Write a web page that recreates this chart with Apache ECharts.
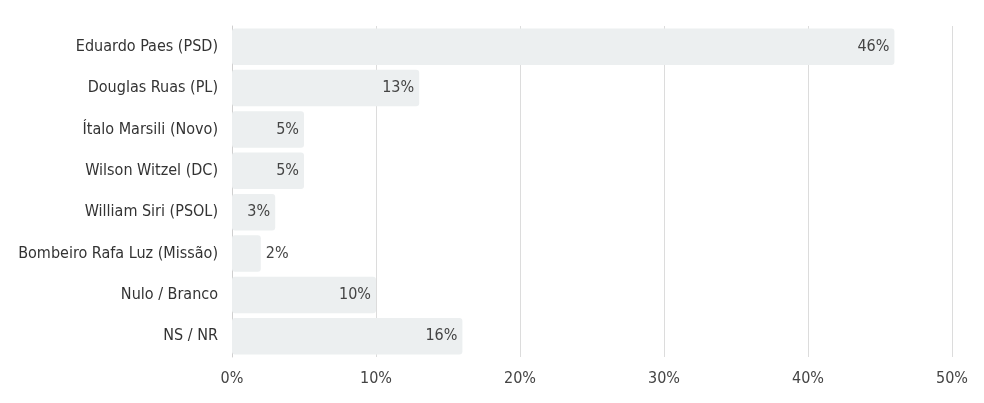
<!DOCTYPE html>
<html>
<head>
<meta charset="utf-8">
<script src="https://cdn.jsdelivr.net/npm/echarts@6/dist/echarts.min.js"></script>
<style>
  html, body { margin: 0; padding: 0; background: #fff; }
  #chart { width: 984px; height: 403px; }
</style>
</head>
<body>
<div id="chart"></div>
<script>
var categories = [
    'Eduardo Paes (PSD)',
    'Douglas Ruas (PL)',
    'Ítalo Marsili (Novo)',
    'Wilson Witzel (DC)',
    'William Siri (PSOL)',
    'Bombeiro Rafa Luz (Missão)',
    'Nulo / Branco',
    'NS / NR'
];
var values = [46, 13, 5, 5, 3, 2, 10, 16];
var xTicks = [0, 10, 20, 30, 40, 50];

var font = "'Liberation Sans Narrow', 'DejaVu Sans Condensed', sans-serif";

var chart = echarts.init(document.getElementById('chart'));

var barData = [];
for (var i = 0; i < values.length; i++) {
    // small bars get the label outside
    var outside = values[i] < 3;
    barData.push({
        value: values[i],
        label: {
            position: outside ? 'right' : 'insideRight',
            distance: 5
        }
    });
}

var option = {
    animation: false,
    grid: {
        left: 232,
        right: 32,
        top: 26,
        bottom: 46
    },
    xAxis: {
        type: 'value',
        min: xTicks[0],
        max: xTicks[xTicks.length - 1],
        interval: 10,
        axisLine: { show: false },
        axisTick: { show: false },
        splitLine: { lineStyle: { color: '#dcdcdc', width: 1 } },
        axisLabel: {
            formatter: '{value}%',
            color: '#444',
            fontFamily: font,
            fontSize: 16,
            margin: 14
        }
    },
    yAxis: {
        type: 'category',
        inverse: true,
        data: categories,
        axisLine: { show: true, lineStyle: { color: '#cfcfcf' } },
        axisTick: { show: false },
        axisLabel: {
            color: '#333',
            fontFamily: font,
            fontSize: 16,
            margin: 14
        }
    },
    series: [{
        type: 'bar',
        data: barData,
        barCategoryGap: '12%',
        itemStyle: {
            color: '#eceff0',
            borderRadius: 3
        },
        label: {
            show: true,
            formatter: '{c}%',
            color: '#444',
            fontFamily: font,
            fontSize: 16
        }
    }]
};

chart.setOption(option);
</script>
</body>
</html>
